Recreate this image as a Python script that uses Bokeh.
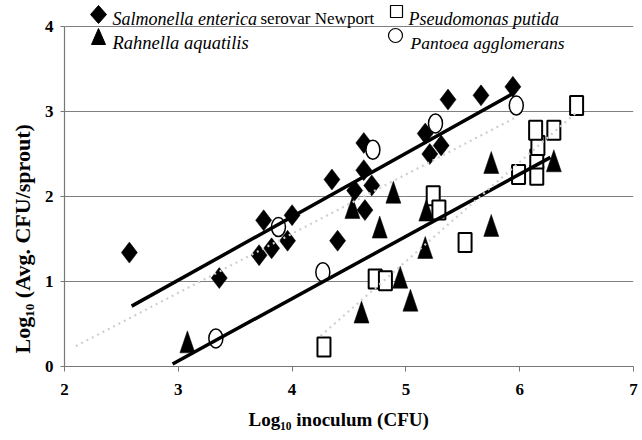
import math
from bokeh.plotting import figure
from bokeh.models import Label, Range1d, FixedTicker, Title
from bokeh.embed import file_html
from bokeh.resources import INLINE

# ---------------- data ----------------
salmonella_x = [2.57, 3.36, 3.71, 3.82, 3.96, 3.75, 4.00, 4.35, 4.40, 4.55,
                4.63, 4.63, 4.64, 4.70, 5.17, 5.21, 5.31, 5.37, 5.66, 5.94]
salmonella_y = [1.34, 1.04, 1.31, 1.39, 1.48, 1.72, 1.78, 2.20, 1.48, 2.07,
                2.31, 2.63, 1.84, 2.13, 2.74, 2.50, 2.60, 3.14, 3.19, 3.29]

rahnella_x = [3.08, 4.53, 4.61, 4.77, 4.89, 4.95, 5.04, 5.17, 5.18, 5.75, 5.75, 6.30]
rahnella_y = [0.29, 1.87, 0.64, 1.64, 2.05, 1.05, 0.78, 1.40, 1.84, 1.66, 2.40, 2.42]

pseudomonas_x = [4.28, 4.73, 4.82, 5.24, 5.29, 5.52, 5.99, 6.15, 6.15, 6.16, 6.14, 6.30, 6.50]
pseudomonas_y = [0.23, 1.03, 1.01, 2.01, 1.84, 1.46, 2.26, 2.25, 2.44, 2.60, 2.78, 2.78, 3.07]

pantoea_x = [3.33, 3.88, 4.27, 4.71, 5.26, 5.97]
pantoea_y = [0.33, 1.64, 1.11, 2.55, 2.86, 3.07]

# regression lines (end points)
salmonella_fit_x = [2.59, 5.94]
salmonella_fit_y = [0.71, 3.21]
rahnella_fit_x = [2.95, 6.27]
rahnella_fit_y = [0.03, 2.46]
pseudomonas_fit_x = [4.25, 6.50]
pseudomonas_fit_y = [0.36, 2.99]
pantoea_fit_x = [2.10, 5.95]
pantoea_fit_y = [0.24, 2.92]

x_ticks = [2, 3, 4, 5, 6, 7]
y_ticks = [0, 1, 2, 3, 4]
grid_lines = [1, 2, 3, 4]

species_italic = ["Salmonella enterica", "Rahnella aquatilis",
                  "Pseudomonas putida", "Pantoea agglomerans"]
species_suffix = "serovar Newport"
x_label = "Log\u2081\u2080 inoculum (CFU)"
y_label = "Log\u2081\u2080 (Avg. CFU/sprout)"

# ---------------- layout ----------------
W, H = 642, 440
BL, BR, BT, BB = 64, 9, 4, 74
FW, FH = W - BL - BR, H - BT - BB
X0, X1 = 2, 7
PX_PER_Y = 85.0
Y0 = 0
Y1 = FH / PX_PER_Y
kx = (X1 - X0) / FW          # data units per pixel
ky = (Y1 - Y0) / FH

def px2x(px):
    return X0 + (px - BL) * kx

def px2y(py):
    return Y1 - (py - BT) * ky

SERIF = "Liberation Serif"

p = figure(width=W, height=H, output_backend="svg", toolbar_location=None,
           x_range=Range1d(X0, X1), y_range=Range1d(Y0, Y1),
           min_border_left=BL, min_border_right=BR, min_border_top=BT,
           min_border_bottom=BB)
p.outline_line_color = None
p.background_fill_color = "white"
p.border_fill_color = "white"
p.xgrid.visible = False
p.ygrid.ticker = FixedTicker(ticks=grid_lines)
p.ygrid.grid_line_color = "#808080"
p.ygrid.grid_line_width = 1.2

for ax, ticks in ((p.xaxis[0], x_ticks), (p.yaxis[0], y_ticks)):
    ax.ticker = FixedTicker(ticks=ticks)
    ax.major_tick_in = 0
    ax.minor_tick_line_color = None
    ax.axis_line_color = "#777777"
    ax.axis_line_width = 1.2
    ax.major_tick_line_color = "#777777"
    ax.major_label_text_font = SERIF
    ax.major_label_text_font_style = "bold"
    ax.major_label_text_font_size = "17px"
    ax.major_label_text_color = "black"
p.xaxis.major_tick_out = 5
p.xaxis.major_label_standoff = 12
p.xaxis.bounds = (X0, X1)
p.yaxis.major_tick_out = 4
p.yaxis.major_label_standoff = 7
p.yaxis.bounds = (0, 4)

# ---------------- marker helpers ----------------
def diamond_patches(xs, ys, hw_px=8, hh_px=10.5):
    px_, py_ = [], []
    for x, y in zip(xs, ys):
        hw, hh = hw_px * kx, hh_px * ky
        px_.append([x - hw, x, x + hw, x])
        py_.append([y, y + hh, y, y - hh])
    return px_, py_

def triangle_patches(xs, ys, hw_px=7.5, hh_px=11):
    px_, py_ = [], []
    for x, y in zip(xs, ys):
        hw, hh = hw_px * kx, hh_px * ky
        px_.append([x - hw, x, x + hw])
        py_.append([y - hh, y + hh, y - hh])
    return px_, py_

dx, dy = diamond_patches(salmonella_x, salmonella_y)
p.patches(dx, dy, fill_color="black", line_color="black", line_width=0.5)

p.rect(pseudomonas_x, pseudomonas_y, width=13, height=19,
       width_units="screen", height_units="screen",
       fill_color="white", line_color="black", line_width=2)

tx, ty = triangle_patches(rahnella_x, rahnella_y)
p.patches(tx, ty, fill_color="black", line_color="black", line_width=0.5)

p.ellipse(pantoea_x, pantoea_y, width=14, height=19,
          width_units="screen", height_units="screen",
          fill_color="white", line_color="black", line_width=1.5)

# regression lines
p.line(salmonella_fit_x, salmonella_fit_y, line_color="black", line_width=3.5)
p.line(rahnella_fit_x, rahnella_fit_y, line_color="black", line_width=3.5)
p.line(pseudomonas_fit_x, pseudomonas_fit_y, line_color="#cfcfcf",
       line_width=2.2, line_dash="2 4")
p.line(pantoea_fit_x, pantoea_fit_y, line_color="#cfcfcf",
       line_width=2.2, line_dash="2 4")

# ---------------- legend ----------------
ldx, ldy = diamond_patches([px2x(98)], [px2y(14)], 8, 9)
p.patches(ldx, ldy, fill_color="black", line_color="black")
ltx, lty = triangle_patches([px2x(98)], [px2y(36)], 7, 8)
p.patches(ltx, lty, fill_color="black", line_color="black")
p.rect([px2x(396)], [px2y(11)], width=12, height=12,
       width_units="screen", height_units="screen",
       fill_color="white", line_color="black", line_width=1.2)
p.ellipse([px2x(395)], [px2y(35)], width=14, height=14,
          width_units="screen", height_units="screen",
          fill_color="white", line_color="black", line_width=1.2)

def add_text(txt, px, py, size="18px", style="italic"):
    p.add_layout(Label(x=px2x(px), y=px2y(py), text=txt,
                       text_font=SERIF, text_font_style=style,
                       text_font_size=size, text_color="black",
                       text_align="left", text_baseline="alphabetic"))

add_text(species_italic[0], 112, 18)
add_text(species_suffix, 260, 18, size="17px", style="normal")
add_text(species_italic[1], 112, 42, size="18.5px")
add_text(species_italic[2], 408, 18)
add_text(species_italic[3], 410, 42, size="17.5px")

# axis titles (as side titles so they sit outside the frame)
p.add_layout(Title(text=x_label, align="left", offset=184, standoff=19,
                   text_font=SERIF, text_font_style="bold",
                   text_font_size="19px", text_color="black"), "below")
p.add_layout(Title(text=y_label, align="left", offset=13, standoff=14,
                   text_font=SERIF, text_font_style="bold",
                   text_font_size="22px", text_color="black"), "left")

open("out.html", "w").write(file_html(p, INLINE))
